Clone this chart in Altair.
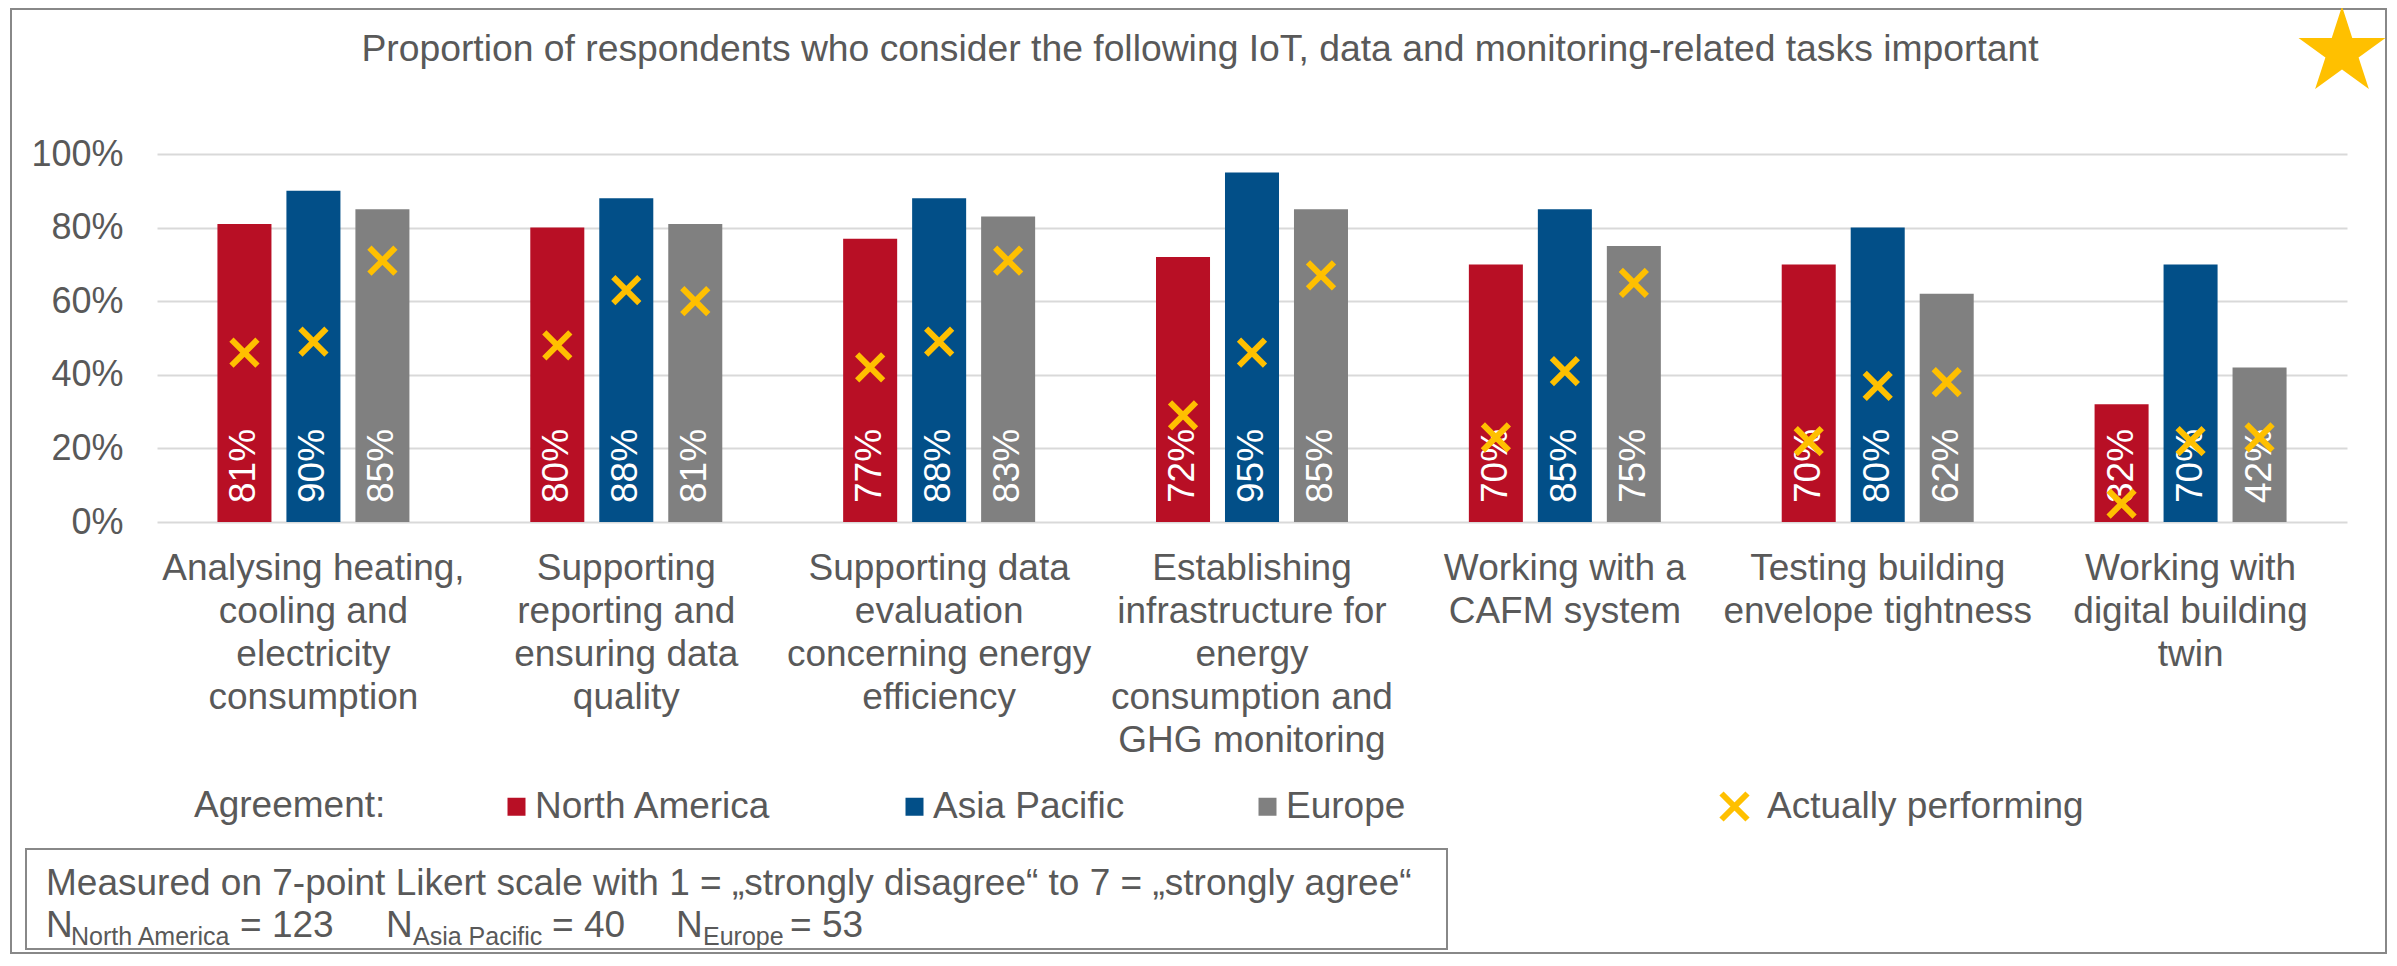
import altair as alt
import pandas as pd

# ---------------- data ----------------
TITLE = "Proportion of respondents who consider the following IoT, data and monitoring-related tasks important"
categories = [
    "Analysing heating,|cooling and|electricity|consumption",
    "Supporting|reporting and|ensuring data|quality",
    "Supporting data|evaluation|concerning energy|efficiency",
    "Establishing|infrastructure for|energy|consumption and|GHG monitoring",
    "Working with a|CAFM system",
    "Testing building|envelope tightness",
    "Working with|digital building|twin",
]
regions = ["North America", "Asia Pacific", "Europe"]
agree_na = [81, 80, 77, 72, 70, 70, 32]
agree_ap = [90, 88, 88, 95, 85, 80, 70]
agree_eu = [85, 81, 83, 85, 75, 62, 42]
perform_na = [46, 48, 42, 29, 23, 22, 5]
perform_ap = [49, 63, 49, 46, 41, 37, 22]
perform_eu = [71, 60, 71, 67, 65, 38, 23]
y_ticks = [0, 20, 40, 60, 80, 100]
legend_title = "Agreement:"
marker_label = "Actually performing"
note_line1 = "Measured on 7-point Likert scale with 1 = \u201estrongly disagree\u201c to 7 = \u201estrongly agree\u201c"
n_groups = ["North America", "Asia Pacific", "Europe"]
n_values = [123, 40, 53]

agree = {"North America": agree_na, "Asia Pacific": agree_ap, "Europe": agree_eu}
perform = {"North America": perform_na, "Asia Pacific": perform_ap, "Europe": perform_eu}
rows = []
for i, c in enumerate(categories):
    for r in regions:
        rows.append({"category": c, "region": r, "agree": agree[r][i],
                     "perform": perform[r][i], "label": f"{agree[r][i]}%",
                     "measure": marker_label})
df = pd.DataFrame(rows)
one = pd.DataFrame({"k": [0]})

# ---------------- styling ----------------
W, H = 2190, 368
FONT = "Liberation Sans"
TXT = "#595959"
COLORS = ["#B80F25", "#024F88", "#808080"]
YELLOW = "#FFC000"
FS = 37
X_PATH = "M-1,-1L1,1M1,-1L-1,1"
STAR_PATH = ("M0,-1L0.2245,-0.309L0.951,-0.309L0.363,0.118L0.588,0.809L0,0.382"
             "L-0.588,0.809L-0.363,0.118L-0.951,-0.309L-0.2245,-0.309Z")

x_axis = alt.Axis(title=None, labelAngle=0, labelFontSize=FS, labelColor=TXT,
                  labelLineHeight=43, labelPadding=28, labelBaseline="top",
                  ticks=False, domain=False, grid=False, labelLimit=600,
                  labelOverlap=False, labelExpr="split(datum.label, '|')")
y_axis = alt.Axis(title=None, values=y_ticks, labelExpr="datum.value + '%'",
                  labelFontSize=36, labelColor=TXT, labelPadding=34,
                  ticks=False, domain=False, grid=True, gridColor="#D9D9D9",
                  gridWidth=2)

x_enc = alt.X("category:N", sort=categories,
              scale=alt.Scale(paddingInner=0, paddingOuter=0), axis=x_axis)
xo_enc = alt.XOffset("region:N", sort=regions,
                     scale=alt.Scale(domain=regions, paddingInner=0.217, paddingOuter=0.876))
y_scale = alt.Scale(domain=[0, 100], nice=False)

bars = alt.Chart(df).mark_bar().encode(
    x=x_enc, xOffset=xo_enc,
    y=alt.Y("agree:Q", scale=y_scale, axis=y_axis),
    color=alt.Color("region:N", sort=regions,
                    scale=alt.Scale(domain=regions, range=COLORS),
                    legend=alt.Legend(title=legend_title, orient="none", legendX=37, legendY=634,
                                      direction="horizontal", titleOrient="left",
                                      symbolType="square", symbolSize=324, symbolStrokeWidth=0,
                                      labelFontSize=FS, labelColor=TXT, labelLimit=600,
                                      titleFontSize=FS, titleColor=TXT, titleFontWeight="normal",
                                      titlePadding=112, columnPadding=124, labelOffset=0,
                                      padding=0, titleLimit=600)),
)

labels = alt.Chart(df).mark_text(angle=270, align="left", baseline="middle", dx=19,
                                 fontSize=FS, color="white").encode(
    x=x_enc, xOffset=xo_enc,
    y=alt.YDatum(0, scale=y_scale),
    text="label:N",
)

marks = alt.Chart(df).mark_point(filled=False, stroke=YELLOW, strokeWidth=6, size=676,
                                 opacity=1).encode(
    x=x_enc, xOffset=xo_enc,
    y=alt.Y("perform:Q", scale=y_scale, axis=y_axis),
    shape=alt.Shape("measure:N", scale=alt.Scale(domain=[marker_label], range=[X_PATH]),
                    legend=alt.Legend(title=None, orient="none", legendX=1559, legendY=634,
                                      symbolSize=676, symbolStrokeColor=YELLOW,
                                      symbolStrokeWidth=6, symbolFillColor="transparent",
                                      labelFontSize=FS, labelColor=TXT, labelLimit=600,
                                      labelOffset=14, padding=0)),
)

border = alt.Chart(one).mark_rect(fill="transparent", stroke="#888888", strokeWidth=2).encode(
    x=alt.value(-146), x2=alt.value(2229), y=alt.value(-145), y2=alt.value(799))

note_box = alt.Chart(one).mark_rect(fill="transparent", stroke="#888888", strokeWidth=2).encode(
    x=alt.value(-131), x2=alt.value(1290), y=alt.value(695), y2=alt.value(795))

title = alt.Chart(one).mark_text(text=TITLE, fontSize=37.3, color=TXT, align="center",
                                 baseline="alphabetic").encode(
    x=alt.value(1043), y=alt.value(-93))

star = alt.Chart(one).mark_point(shape=STAR_PATH, filled=True, fill=YELLOW, size=8354,
                                 opacity=1, strokeWidth=0).encode(
    x=alt.value(2185), y=alt.value(-102))

texts = [alt.Chart(one).mark_text(text=note_line1, fontSize=FS, color=TXT, align="left",
                                  baseline="alphabetic").encode(x=alt.value(-111), y=alt.value(741))]
n_x = [-111, 229, 519]
sub_dx = [25, 27, 27]
eq_x = [83, 395, 633]
for gx, sdx, ex, g, v in zip(n_x, sub_dx, eq_x, n_groups, n_values):
    texts.append(alt.Chart(one).mark_text(text="N", fontSize=FS, color=TXT, align="left",
                                          baseline="alphabetic").encode(x=alt.value(gx), y=alt.value(783)))
    texts.append(alt.Chart(one).mark_text(text=g, fontSize=25, color=TXT, align="left",
                                          baseline="alphabetic").encode(x=alt.value(gx + sdx), y=alt.value(791)))
    texts.append(alt.Chart(one).mark_text(text=f"= {v}", fontSize=FS, color=TXT, align="left",
                                          baseline="alphabetic").encode(x=alt.value(ex), y=alt.value(783)))

chart = alt.layer(border, note_box, bars, labels, marks, title, star, *texts).properties(
    width=W, height=H,
    autosize=alt.AutoSizeParams(type="none"),
    padding={"left": 149, "top": 146, "right": 42, "bottom": 432},
).configure(font=FONT).configure_view(strokeWidth=0)

chart.save("out.html", embed_options={"renderer": "svg", "actions": False})
